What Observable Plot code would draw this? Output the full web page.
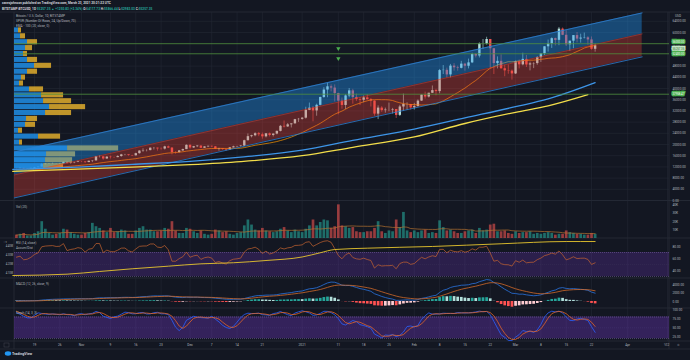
<!DOCTYPE html>
<html><head><meta charset="utf-8">
<script src="https://cdn.jsdelivr.net/npm/d3@7"></script>
<script src="https://cdn.jsdelivr.net/npm/@observablehq/plot@0.6"></script>
<style>
html,body{margin:0;padding:0;background:#131722;}
#chart{position:relative;width:690px;height:360px;background:#131722;overflow:hidden;}
#chart svg{position:absolute;left:0;}
</style></head><body><div id="chart"></div>
<script>
// ---------- DATA ----------
const preCloses = [11860,11530,11680,11650,11760,11350,11470,11320,11530,11480,11710,11680,
 11970,11420,10200,10480,10180,10260,10380,10120,10240,10370,10400,10440,10330,10680,10790,10960,10950,10940,11090,10920,10420,10540,10240,10740,10690,10730,10780,10710,10840,10780,
 10620,10570,10550,10670,10790,10600,10670,10930,11060,11300,11380,11550,11430];
const firstDay = "2020-10-14";
const closes = [
 11420,11500,11320,11360,11500,11750,11910,12820,12970,13030,13070,13030,13070,13650,13270,13460,13560,13800,
 13760,13550,14030,14150,15590,15590,14830,15480,15330,15310,15700,16290,16320,16070,15960,16730,17660,17800,17820,18680,18710,18420,18370,19160,18720,17150,17140,17720,18180,19700,
 18770,19220,19440,18650,19150,19360,19170,18320,18550,18250,18030,18800,19170,19270,19440,21350,22800,23130,23850,23480,22740,23820,23240,23720,24690,26490,26270,27030,27370,28880,28990,
 29400,32200,33000,31990,33990,36800,39450,40600,40150,38200,35500,33950,37350,39150,36800,36050,35800,36650,36000,35500,30850,33000,32100,32300,32300,32500,30400,33400,34300,34300,33100,
 33550,35500,37650,36950,38300,39250,38900,46400,46500,44850,48000,47400,47200,48700,47950,49150,52150,51600,55900,55900,57500,54200,48900,49700,47050,46300,46200,45200,
 49600,48450,50400,48400,48800,48900,51000,52400,54900,55900,57800,57200,61200,59000,55600,56900,58900,57650,58000,58100,57350,54006,55257.35];
const highs = [
 11550,11630,11540,11420,11500,11830,12000,13220,13180,13220,13350,13190,13250,13780,13860,13630,13660,14050,
 13890,13820,14070,14250,15750,15970,15770,15650,15830,15460,15960,16480,16480,16320,16150,16880,17800,18480,18140,18790,18950,18720,18770,19390,19460,18900,17440,17870,18350,19860,
 19880,19320,19590,19540,19180,19410,19410,19290,18630,18550,18270,18940,19400,19350,19560,21550,23770,23300,24190,24300,24100,23850,24100,23800,24790,26800,28400,27500,27400,28990,29300,
 29600,33300,34800,33600,34400,36900,40300,41900,41300,41300,38300,36600,37800,40000,39700,38000,36800,37300,37800,36400,35600,33800,33500,33000,34800,32900,32500,34000,38000,34900,34300,
 34700,35900,37700,38700,38300,40900,39700,46800,48200,47300,48600,48900,48000,49700,49000,50500,52600,52500,56300,57500,58300,57500,54200,51300,52000,48300,48400,46600,
 49800,50200,52600,51800,49400,49200,51400,52400,54900,57300,58100,58000,61800,61600,60600,56900,58900,60000,59400,59800,58500,58400,55866.44];
const lows = [
 11280,11270,11220,11300,11340,11410,11680,11900,12700,12880,12900,12890,12790,13050,12990,12980,13150,13550,
 13610,13230,13520,13530,14090,15190,14400,14720,14830,15080,15280,15470,15990,15810,15790,15880,16550,17210,17370,17750,18040,17650,18000,18050,18540,16300,16540,16880,17500,18180,
 18330,18570,18900,18600,18670,18900,18930,18200,17630,17920,17600,18030,18750,19020,19050,19280,21300,22370,22770,22800,21900,22360,22700,22700,23450,24500,25900,26100,25900,27300,27900,
 28700,29100,32100,28100,30100,33800,36500,36700,38800,35200,30600,32600,32500,36700,34400,35400,33900,34900,35900,33400,30100,28900,31500,31200,31700,30900,29300,30000,31900,32200,32300,
 32300,33400,35400,36200,36600,38200,37400,38100,45000,43700,43800,46200,46200,47000,46200,47000,48900,50900,50900,54000,55500,47000,45000,47000,46900,44200,45100,43000,
 45000,47000,48100,47500,46300,47100,48300,49300,51800,53000,54300,55200,55300,58900,55000,53300,54200,56300,56200,57700,55500,53700,52983.03];
const volumesK = [
 4,5,6,3,3,6,8,20,11,6,4,5,6,11,10,7,5,4,
 4,6,7,18,14,12,9,7,12,7,8,10,9,5,5,9,12,14,10,10,8,8,9,12,11,20,9,6,6,12,
 11,8,6,9,5,4,5,10,9,7,8,5,4,6,7,15,22,16,10,9,12,9,8,7,8,11,13,9,7,10,8,
 7,11,15,22,15,19,22,21,12,14,40,15,14,12,13,8,7,7,8,8,12,20,8,6,9,8,22,13,31,9,7,
 9,7,9,10,6,7,6,21,13,9,10,8,6,6,8,9,10,6,12,9,10,16,17,8,8,9,6,5,
 8,6,7,7,8,5,6,5,6,7,6,4,5,5,9,7,6,5,5,4,4,6,5];
// Volume profile rows (bottom -> top), up / down volume (K BTC)
const vpUp   = [29,31,32,53,5,24,4,11,12,31,35,29,27,15,5,7,13,20,13,9,11,13,6,4];
const vpDown = [20,27,29,51,3,22,4,10,11,26,36,28,22,14,4,4,10,17,10,4,7,10,5,3];
// Moving averages (blue, yellow)
const blueDates = ["2020-10-13","2020-10-31","2020-11-15","2020-12-01","2020-12-15","2021-01-01","2021-01-15","2021-02-01","2021-02-15","2021-03-01","2021-03-10","2021-03-23"];
const blueValues = [11100,11900,12900,14000,15500,18000,21500,25500,29500,33500,36300,42100];
const yellowDates = ["2020-10-13","2020-10-31","2020-11-15","2020-12-01","2020-12-15","2021-01-01","2021-01-15","2021-02-01","2021-02-15","2021-03-01","2021-03-10","2021-03-21"];
const yellowValues = [10400,11200,11900,12800,13900,16000,19000,22700,27500,31500,33800,37800];
// Accum/Dist (millions)
const adDates = ["2020-10-13","2020-10-28","2020-11-06","2020-11-15","2020-11-25","2020-12-04","2020-12-13","2020-12-22","2021-01-01","2021-01-06","2021-01-10","2021-01-19","2021-02-06","2021-02-25","2021-03-15","2021-03-23"];
const adValues = [4.074,4.089,4.119,4.149,4.178,4.204,4.216,4.241,4.280,4.327,4.363,4.378,4.397,4.427,4.452,4.452];
// Regression channel drawing
const channelDates = ["2020-10-13","2021-04-05"];
const channelTop = [17200,67000];
const channelMid = [9000,59500];
const channelBot = [800,51300];
// Horizontal lines & markers
const hLinePrices = [56000,52400,37960];
const markerDates = ["2021-01-11","2021-01-11"];
const markerPrices = [54300,50700];
const priceLabelValues = [56000,55257.35,52400,37958.47];
const priceLabelTexts = ["56000.00","55257.35","52400.00","37958.47"];
// Ticks
const priceTicks = [0,4000,8000,12000,16000,20000,24000,28000,32000,36000,40000,44000,48000,60000,64000];
const volTicks = [10,20,30,40];
const rsiTicks = [40,60,80];
const adTicks = [4.1,4.2,4.3,4.4];
const macdTicks = [0,2000,4000];
const stochTicks = [25,50,75,100];
const timeTickDates = ["2020-10-19","2020-10-26","2020-11-01","2020-11-09","2020-11-16","2020-11-23","2020-12-01","2020-12-07","2020-12-14","2020-12-21","2021-01-01","2021-01-11","2021-01-18","2021-01-25","2021-02-01","2021-02-08","2021-02-15","2021-02-22","2021-03-01","2021-03-08","2021-03-15","2021-03-22","2021-04-01","2021-04-12"];
const timeTickLabels = ["19","26","Nov","9","16","23","Dec","7","14","21","2021","11","18","25","Feb","8","15","22","Mar","8","15","22","Apr","12"];

// ---------- BUILD ----------
const parse = d3.utcParse("%Y-%m-%d");
const start = parse(firstDay);
const P = preCloses.length;
const allC = preCloses.concat(closes);
const allH = preCloses.concat(highs);
const allL = preCloses.concat(lows);
const meanBack = (arr,i,n)=>d3.mean(arr.slice(Math.max(0,i-n+1),i+1));
function ema(arr,n){const k=2/(n+1);let e;return arr.map((v,i)=>(e=i===0?v:v*k+e*(1-k)));}
const e12=ema(allC,12), e26=ema(allC,26);
const macdAll=allC.map((_,i)=>e12[i]-e26[i]);
const sigAll=ema(macdAll,9);
const rsiAll=[];let ag=0,al=0;
for(let i=1;i<allC.length;i++){const ch=allC[i]-allC[i-1];const g=Math.max(ch,0),l=Math.max(-ch,0);
 if(i<=14){ag+=g/14;al+=l/14;}else{ag=(ag*13+g)/14;al=(al*13+l)/14;}
 rsiAll[i]=i>=14?100-100/(1+ag/al):null;}
const rawK=allC.map((c,i)=>{const hh=d3.max(allH.slice(Math.max(0,i-13),i+1));const ll=d3.min(allL.slice(Math.max(0,i-13),i+1));return 100*(c-ll)/(hh-ll);});
const kAll=rawK.map((_,i)=>meanBack(rawK,i,3));
const dAll=kAll.map((_,i)=>meanBack(kAll,i,3));

const bars=closes.map((c,i)=>{const open=i===0?preCloses[P-1]:closes[i-1];const j=P+i;
 return {date:d3.utcDay.offset(start,i),open,close:c,high:Math.max(highs[i],open,c),low:Math.min(lows[i],open,c),
  up:c>=open,vol:volumesK[i],volMA:meanBack(volumesK,i,20),sma20:meanBack(allC,j,20),
  rsi:rsiAll[j],macd:macdAll[j],signal:sigAll[j],hist:macdAll[j]-sigAll[j],k:kAll[j],d:dAll[j]};});
bars.forEach((b,i)=>{const prev=i===0?(macdAll[P-1]-sigAll[P-1]):bars[i-1].hist;
 b.histColor=b.hist>=0?(b.hist>prev?"#26a69a":"#b2dfdb"):(b.hist<prev?"#ff5252":"#ffcdd2");});

const blue=blueDates.map((d,i)=>({date:parse(d),v:blueValues[i]}));
const yellow=yellowDates.map((d,i)=>({date:parse(d),v:yellowValues[i]}));
const ad=adDates.map((d,i)=>({date:parse(d),v:adValues[i]}));
const channel=channelDates.map((d,i)=>({date:parse(d),top:channelTop[i],mid:channelMid[i],bot:channelBot[i]}));
const markers=markerDates.map((d,i)=>({date:parse(d),p:markerPrices[i]}));
const labelShift=[-1.2,3.6,0.8,0];
const priceLabels=priceLabelValues.map((v,i)=>({p:v,t:priceLabelTexts[i],light:i===1}));
const timeTicks=timeTickDates.map(parse);
const tickLabelMap=new Map(timeTicks.map((d,i)=>[+d,timeTickLabels[i]]));
const vpLo=d3.min(bars,d=>d.low), vpHi=d3.max(bars,d=>d.high), vpStep=(vpHi-vpLo)/vpUp.length;
const vpRows=vpUp.map((u,k)=>({lo:vpLo+k*vpStep,hi:vpLo+(k+1)*vpStep,up:u,tot:u+vpDown[k]}));

// ---------- LAYOUT ----------
const W=690, ML=14, MR=21;
const xDomain=[new Date(Date.UTC(2020,9,13,11,17)),new Date(Date.UTC(2021,3,12,13,26))];
const grid="#242834", txt="#b2b5be", FS=3.2;
const chart=document.getElementById("chart");
function base(h,extra={}){return Object.assign({width:W,height:h,marginLeft:ML,marginRight:MR,marginTop:0,marginBottom:0,
 x:{type:"utc",domain:xDomain,axis:null},
 style:{background:"transparent",color:txt,fontSize:FS+"px",fontFamily:"Roboto, sans-serif",overflow:"visible"}},extra);}
function place(svg,top){svg.style.position="absolute";svg.style.top=top+"px";svg.style.left="0px";chart.appendChild(svg);}
const axisR=(ticks,fmt)=>Plot.axisY(ticks,{anchor:"right",tickSize:0,tickPadding:3,tickFormat:fmt,fontSize:FS,color:txt});
const vGrid=()=>Plot.ruleX(timeTicks,{stroke:grid,strokeWidth:0.6});
const yMain=[0,67143];
const upC="#b2dfdb", dnC="#ef5350";

// frame
const frame=d3.create("svg").attr("width",W).attr("height",360);
[12,200.5,238,278,308,341,349].forEach(y=>frame.append("line").attr("x1",0).attr("x2",W).attr("y1",y).attr("y2",y).attr("stroke","#2a2e39").attr("stroke-width",0.8));
[ML,W-MR].forEach(x=>frame.append("line").attr("x1",x).attr("x2",x).attr("y1",12).attr("y2",349).attr("stroke","#2a2e39").attr("stroke-width",0.8));
place(frame.node(),0);

// main pane
place(Plot.plot(base(188,{y:{domain:yMain,axis:null},marks:[
 Plot.ruleY(priceTicks,{stroke:grid,strokeWidth:0.6}),
 vGrid(),
 Plot.ruleX(bars,{x:"date",y1:"low",y2:"high",stroke:d=>d.up?upC:dnC,strokeWidth:0.6}),
 Plot.ruleX(bars,{x:"date",y1:"open",y2:"close",stroke:d=>d.up?upC:dnC,strokeWidth:2.4}),
 Plot.line(bars,{x:"date",y:"sma20",stroke:"#ff9800",strokeWidth:0.7}),
 axisR(priceTicks,d=>d.toFixed(2))
]})),12);

// volume profile
place(Plot.plot(base(188,{x:{domain:[0,d3.max(vpRows,d=>d.tot)/0.159],axis:null},y:{domain:yMain,axis:null},marks:[
 Plot.rect(vpRows,{x1:()=>0,x2:"up",y1:"lo",y2:"hi",fill:"#2196f3",fillOpacity:0.8,insetTop:0.4,insetBottom:0.4}),
 Plot.rect(vpRows,{x1:"up",x2:"tot",y1:"lo",y2:"hi",fill:"#fbc02d",fillOpacity:0.75,insetTop:0.4,insetBottom:0.4})
]})),12);

// channel + drawings
place(Plot.plot(base(188,{y:{domain:yMain,axis:null},marks:[
 Plot.areaY(channel,{x:"date",y1:"mid",y2:"top",fill:"#2196f3",fillOpacity:0.4,clip:true}),
 Plot.areaY(channel,{x:"date",y1:"bot",y2:"mid",fill:"#f44336",fillOpacity:0.33,clip:true}),
 Plot.line(channel,{x:"date",y:"top",stroke:"#2f7fd0",strokeWidth:0.8,clip:true}),
 Plot.line(channel,{x:"date",y:"bot",stroke:"#2f7fd0",strokeWidth:0.8,clip:true}),
 Plot.line(channel,{x:"date",y:"mid",stroke:"#c0443c",strokeWidth:0.5,clip:true}),
 Plot.line(blue,{x:"date",y:"v",stroke:"#3d95e8",strokeWidth:1.3,curve:"monotone-x"}),
 Plot.line(yellow,{x:"date",y:"v",stroke:"#f2dd4a",strokeWidth:1.3,curve:"monotone-x"}),
 Plot.ruleY(hLinePrices,{stroke:"#4f8f3e",strokeWidth:0.8}),
 Plot.dot(markers,{x:"date",y:"p",symbol:"triangle",rotate:180,r:1.6,fill:"#4caf50"}),
 ...priceLabels.map((d,i)=>Plot.text([d],{y:"p",text:"t",dy:labelShift[i],frameAnchor:"right",textAnchor:"start",dx:3,fontSize:2.8,
   fill:d.light?"#1b5e20":"#ffffff",stroke:d.light?"#c8e6c9":"#4caf50",strokeWidth:2.6,strokeLinejoin:"miter"}))
]})),12);

// volume pane
place(Plot.plot(base(37.5,{y:{domain:[-0.6,44],axis:null},marks:[
 vGrid(),
 Plot.ruleX(bars,{x:"date",y1:()=>0,y2:"vol",stroke:d=>d.up?"#26a69a":"#ef5350",strokeOpacity:0.6,strokeWidth:2.7}),
 Plot.line(bars,{x:"date",y:"volMA",stroke:"#b4712f",strokeWidth:0.7}),
 axisR(volTicks,d=>d+"K")
]})),200.5);

// RSI pane
place(Plot.plot(base(40,{y:{domain:[26.7,93.3],axis:null},marks:[
 vGrid(),
 Plot.rect([{lo:30,hi:70}],{y1:"lo",y2:"hi",fill:"#6a35b8",fillOpacity:0.28}),
 Plot.ruleY([70,30],{stroke:"#7e6aa8",strokeWidth:0.5,strokeDasharray:"1,1"}),
 Plot.ruleY([50],{stroke:"#3a3458",strokeWidth:0.4,strokeDasharray:"1,1"}),
 Plot.line(bars,{x:"date",y:"rsi",stroke:"#c8642f",strokeWidth:0.7}),
 axisR(rsiTicks,d=>d.toFixed(2))
]})),238);
place(Plot.plot(base(40,{y:{domain:[4.041,4.4856],axis:null},marks:[
 Plot.line(ad,{x:"date",y:"v",stroke:"#e8c62e",strokeWidth:0.9,curve:"monotone-x"}),
 Plot.axisY(adTicks,{anchor:"left",tickSize:0,tickPadding:1.5,tickFormat:d=>d.toFixed(2)+"M",fontSize:2.6,color:txt})
]})),238);

// MACD pane
place(Plot.plot(base(30,{y:{domain:[-1677,5509],axis:null},marks:[
 vGrid(),
 Plot.ruleX(bars,{x:"date",y1:()=>0,y2:"hist",stroke:"histColor",strokeWidth:2.7}),
 Plot.line(bars,{x:"date",y:"macd",stroke:"#2a74e0",strokeWidth:0.8}),
 Plot.line(bars,{x:"date",y:"signal",stroke:"#d06a2a",strokeWidth:0.8}),
 axisR(macdTicks,d=>d.toFixed(2))
]})),278);

// Stoch pane + time axis
place(Plot.plot(base(41,{marginBottom:8,y:{domain:[11.9,103.6],axis:null},marks:[
 vGrid(),
 Plot.rect([{lo:20,hi:80}],{y1:"lo",y2:"hi",fill:"#7a3ad0",fillOpacity:0.33}),
 Plot.ruleY([80,20],{stroke:"#8a74b8",strokeWidth:0.5,strokeDasharray:"1,1"}),
 Plot.ruleY([50],{stroke:"#4a3a78",strokeWidth:0.4,strokeDasharray:"1,1"}),
 Plot.line(bars,{x:"date",y:"k",stroke:"#2962ff",strokeWidth:0.8}),
 Plot.line(bars,{x:"date",y:"d",stroke:"#e0652a",strokeWidth:0.8}),
 axisR(stochTicks,d=>d.toFixed(2)),
 Plot.axisX(timeTicks,{anchor:"bottom",tickSize:0,tickPadding:2.2,tickFormat:d=>tickLabelMap.get(+d),fontSize:FS,color:txt})
]})),308);

// texts
const T=d3.create("svg").attr("width",W).attr("height",360).style("font-family","Roboto, sans-serif").style("font-size",FS+"px");
function t(x,y,s,fill=txt,weight=400){return T.append("text").attr("x",x).attr("y",y).attr("fill",fill).attr("font-weight",weight).text(s);}
t(2,4,"cavesjohnson published on TradingView.com, March 23, 2021 20:21:22 UTC","#d1d4dc",700);
const l2=T.append("text").attr("x",2).attr("y",9.6).attr("fill","#d1d4dc").attr("font-weight",700);
[["BITSTAMP:BTCUSD, 1D ","#d1d4dc"],["55257.35 ▲ +1250.83 (+2.34%) ","#26a69a"],["O:","#d1d4dc"],["54117.73 ","#26a69a"],["H:","#d1d4dc"],["55866.44 ","#26a69a"],["L:","#d1d4dc"],["52983.03 ","#26a69a"],["C:","#d1d4dc"],["55257.35","#26a69a"]]
 .forEach(([s,c])=>l2.append("tspan").attr("fill",c).text(s));
t(16,17,"Bitcoin / U.S. Dollar, 1D, BITSTAMP");
t(16,22,"VPVR (Number Of Rows, 24, Up/Down, 70)");
t(16,26.8,"EMA - 100 (20, close, 0)");
t(675,17,"USD");
t(16,207.8,"Vol (20)");
t(16,244.4,"RSI (14, close)");
t(16,248.8,"Accum/Dist");
t(16,285.4,"MACD (12, 26, close, 9)");
t(16,313.8,"Stoch (14, 3, 3)");
T.append("rect").attr("x",4).attr("y",343).attr("width",5).attr("height",4).attr("fill","none").attr("stroke","#434651").attr("stroke-width",0.5);
t(664,346.2,"%","#787b86");
t(677,346.2,"⚙","#787b86");
T.append("ellipse").attr("cx",8).attr("cy",353.5).attr("rx",3.2).attr("ry",2.2).attr("fill","#2196f3");
t(12,354.8,"TradingView","#d1d4dc",700).attr("font-size","3.6px");
place(T.node(),0);
</script></body></html>
